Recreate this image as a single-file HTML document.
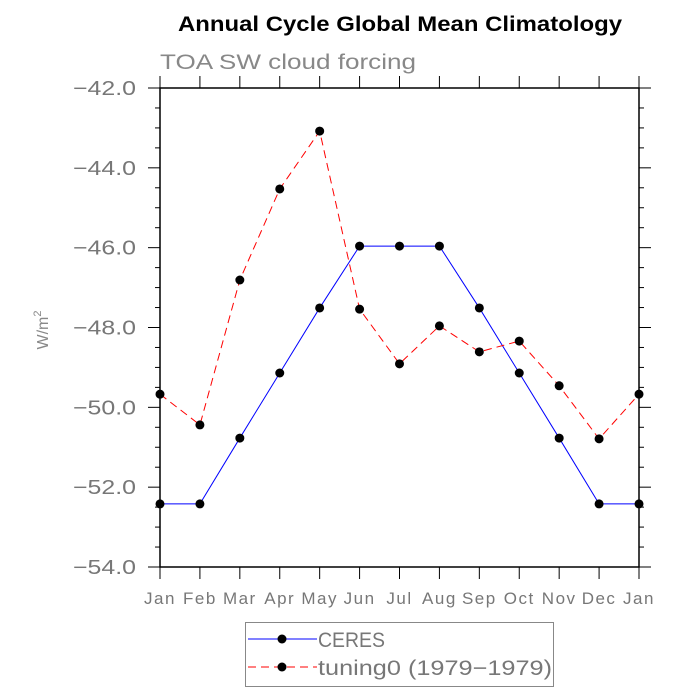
<!DOCTYPE html>
<html><head><meta charset="utf-8"><style>
body{margin:0;background:#fff;}
svg{display:block;font-family:"Liberation Sans",sans-serif;}
</style></head><body>
<svg id="chart" width="700" height="700" viewBox="0 0 700 700">
<text x="178" y="31" font-size="21" font-weight="bold" fill="#000" textLength="444" lengthAdjust="spacingAndGlyphs">Annual Cycle Global Mean Climatology</text>
<text x="160" y="69" font-size="21" fill="#888" textLength="256" lengthAdjust="spacingAndGlyphs">TOA SW cloud forcing</text>
<text x="0" y="0" transform="translate(48,330) rotate(-90)" text-anchor="middle" font-size="16" fill="#888">W/m<tspan dy="-7" font-size="11">2</tspan></text>
<g id="axes"></g>
<g id="series"></g>
<g>
<rect x="245.5" y="622.5" width="308" height="64" fill="#fff" stroke="#888"/>
<g>
<line x1="248" y1="639" x2="317" y2="639" stroke="#0000ff" stroke-width="1"/>
<circle cx="282" cy="639" r="4.5" fill="#000"/>
<text x="318" y="647" font-size="21" fill="#777" textLength="67" lengthAdjust="spacingAndGlyphs">CERES</text></g>
<g>
<line x1="248" y1="667" x2="317" y2="667" stroke="#ff0000" stroke-dasharray="8,5"/>
<circle cx="282" cy="667" r="4.5" fill="#000"/>
<text x="318" y="675" font-size="21" fill="#777" textLength="234" lengthAdjust="spacingAndGlyphs">tuning0 (1979−1979)</text></g>
</g>
</svg>
<script>
const months=["Jan","Feb","Mar","Apr","May","Jun","Jul","Aug","Sep","Oct","Nov","Dec","Jan"];
const ceres=[-52.42,-52.42,-50.77,-49.14,-47.51,-45.96,-45.96,-45.96,-47.51,-49.14,-50.77,-52.42,-52.42];
const tuning0=[-49.67,-50.44,-46.81,-44.53,-43.08,-47.54,-48.91,-47.96,-48.61,-48.34,-49.46,-50.79,-49.67];
const yTicks=[-42,-44,-46,-48,-50,-52,-54];
const yTickLabels=["−42.0","−44.0","−46.0","−48.0","−50.0","−52.0","−54.0"];
const yMin=-54,yMax=-42;
const X0=160,X1=639,Y0=88,Y1=567;
const NS="http://www.w3.org/2000/svg";
function xs(i){return X0+(X1-X0)*i/(months.length-1);}
function ys(v){return Y0+(yMax-v)/(yMax-yMin)*(Y1-Y0);}
function mk(tag,attrs,parent){const e=document.createElementNS(NS,tag);for(const k in attrs)e.setAttribute(k,attrs[k]);parent.appendChild(e);return e;}
const ax=document.getElementById('axes');
const fr=mk('rect',{x:X0,y:Y0,width:X1-X0,height:Y1-Y0,fill:'none',stroke:'#000','stroke-width':1.5},ax);


months.forEach((m,i)=>{
  const x=xs(i);
  mk('line',{x1:x,y1:Y1,x2:x,y2:Y1+12,stroke:'#000'},ax);
  mk('line',{x1:x,y1:Y0,x2:x,y2:Y0-12,stroke:'#000'},ax);
  const t=mk('text',{x:x,y:Y1+37,'text-anchor':'middle','font-size':17,fill:'#777','letter-spacing':'1.5'},ax);
  t.textContent=m;
  
  
});
for(let v=yMin;v<=yMax+1e-9;v+=0.5){
  const y=ys(v);const major=Math.abs(v-Math.round(v/2)*2)<1e-6;
  const L=major?12:5;
  mk('line',{x1:X0,y1:y,x2:X0-L,y2:y,stroke:'#000'},ax);
  mk('line',{x1:X1,y1:y,x2:X1+L,y2:y,stroke:'#000'},ax);
}
yTicks.forEach((v,i)=>{
  const t=mk('text',{x:73,y:ys(v)+7,'font-size':20,fill:'#777',textLength:63,lengthAdjust:'spacingAndGlyphs'},ax);
  t.textContent=yTickLabels[i];
  
  
});
const sg=document.getElementById('series');
function draw(vals,color,dash,name){
  const g=mk('g',{},sg);
  
  
  const pts=vals.map((v,i)=>xs(i)+','+ys(v)).join(' ');
  const attrs={points:pts,fill:'none',stroke:color,'stroke-width':1};
  if(dash)attrs['stroke-dasharray']=dash;
  mk('polyline',attrs,g);
  vals.forEach((v,i)=>{
    const c=mk('circle',{cx:xs(i),cy:ys(v),r:4.5,fill:'#000'},g);
    
    
  });
}
draw(ceres,'#0000ff',null,'ceres-series');
draw(tuning0,'#ff0000','8,5','tuning0-series');
</script>
</body></html>
